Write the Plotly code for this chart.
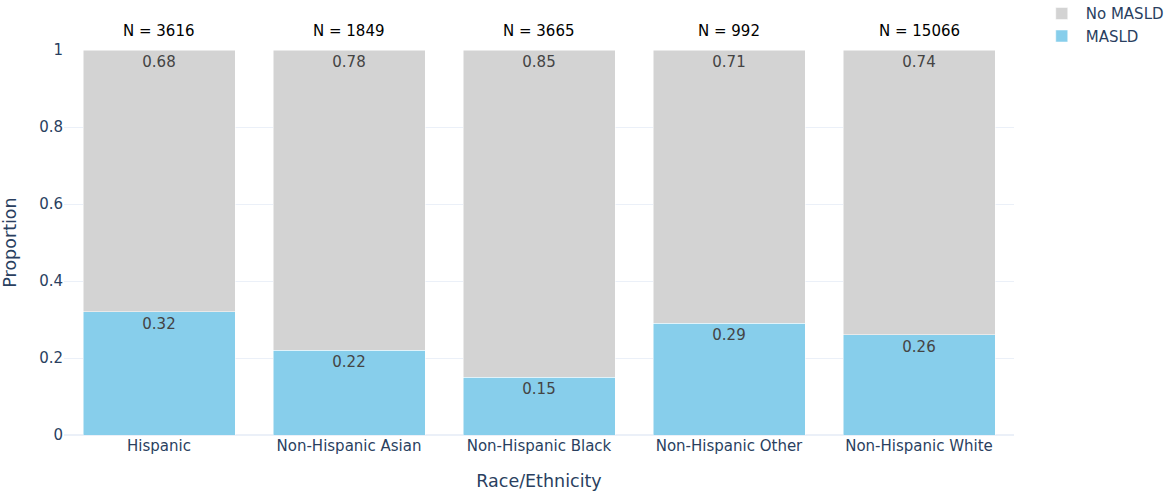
import plotly.graph_objects as go

categories = ["Hispanic", "Non-Hispanic Asian", "Non-Hispanic Black", "Non-Hispanic Other", "Non-Hispanic White"]
masld = [0.32, 0.22, 0.15, 0.29, 0.26]
no_masld = [0.68, 0.78, 0.85, 0.71, 0.74]
n_totals = [3616, 1849, 3665, 992, 15066]

FONT = "DejaVu Sans, Verdana, sans-serif"

fig = go.Figure()
fig.add_trace(go.Bar(
    x=categories, y=masld, name="MASLD",
    marker_color="#87CEEB",
    text=[f"{v:.2f}" for v in masld], textposition="inside",
    insidetextanchor="end", textfont=dict(size=15, color="#444"),
))
fig.add_trace(go.Bar(
    x=categories, y=no_masld, name="No MASLD",
    marker_color="#D3D3D3",
    text=[f"{v:.2f}" for v in no_masld], textposition="inside",
    insidetextanchor="end", textfont=dict(size=15, color="#444"),
))

for c, n, a, b in zip(categories, n_totals, masld, no_masld):
    fig.add_annotation(x=c, y=a + b, yref="y", text=f"N = {n}", showarrow=False,
                       yanchor="bottom", yshift=8, font=dict(size=15, color="black"))

fig.update_layout(
    template="plotly_white",
    barmode="stack",
    bargap=0.2,
    width=1166, height=491,
    margin=dict(l=64, r=152, t=50, b=56, autoexpand=False),
    font=dict(family=FONT, size=15),
    xaxis=dict(title=dict(text="Race/Ethnicity", font=dict(size=17.5), standoff=21), automargin=False),
    yaxis=dict(title=dict(text="Proportion", font=dict(size=17.5), standoff=27), range=[0, 1], dtick=0.2,
               automargin=False),
    legend=dict(font=dict(size=15), yanchor="top", y=1.137, x=1.025, itemwidth=38),
)

fig.write_html("out.html", config={"displayModeBar": False},
               post_script="document.body.style.margin='0';")
